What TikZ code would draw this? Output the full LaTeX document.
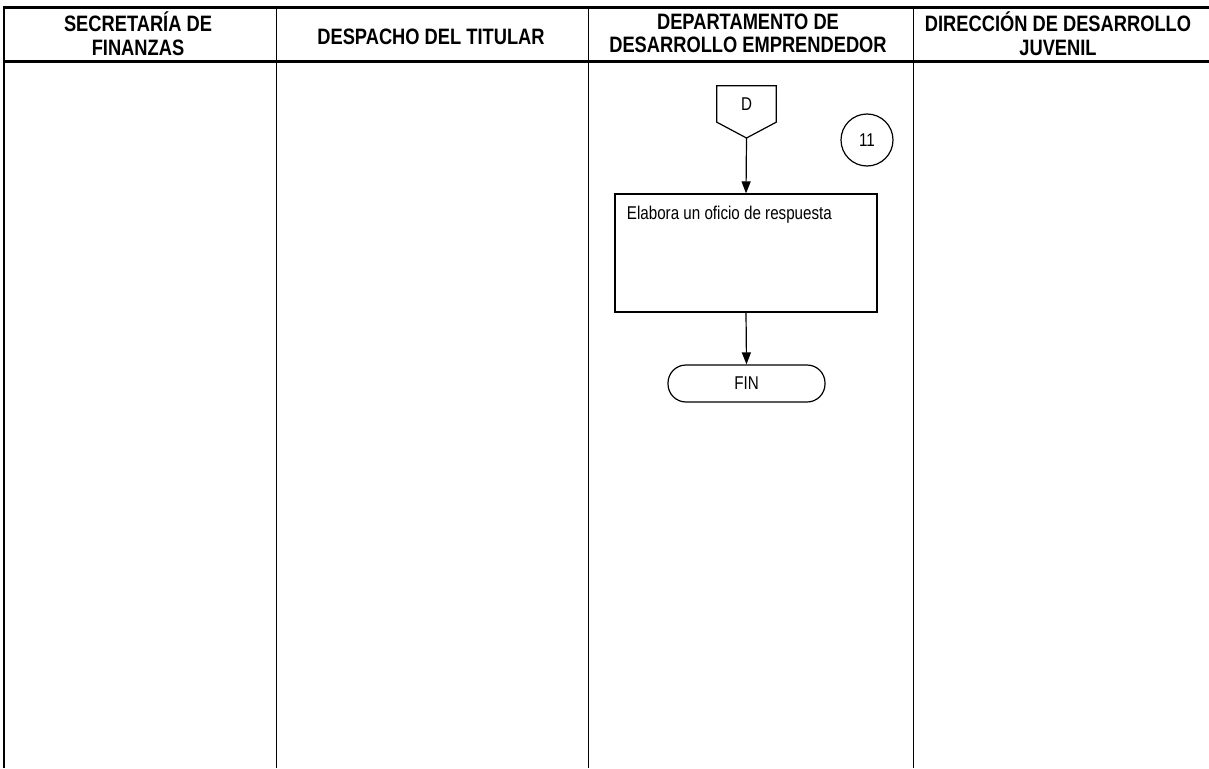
\documentclass[tikz,border=0pt]{standalone}
\usepackage{fontspec}
\setmainfont{Liberation Sans}[FakeStretch=0.82]
\usetikzlibrary{arrows.meta}

\begin{document}
\begin{tikzpicture}[x=1pt, y=-1pt,
        every node/.style = {font=\fontsize{18.5}{21}\selectfont},
        header/.style = {align=center, font=\fontsize{22.3}{23.5}\selectfont\bfseries},
        process/.style = {draw, line width=1.2pt, minimum width=262pt, minimum height=118pt},
        terminal/.style = {draw, line width=1.2pt, rounded corners=18pt,
            minimum width=157pt, minimum height=37pt},
        stepnum/.style = {draw, circle, line width=1.2pt, minimum size=52pt, inner sep=0pt},
        flow/.style = {line width=1.2pt, -{Triangle[length=12pt, width=9pt]}}]
    \useasboundingbox (0,0) rectangle (1209,768);
    % swimlanes
    \draw[line width=2.5pt] (3,7.5) -- (1209,7.5);
    \draw[line width=2.5pt] (3,61.5) -- (1209,61.5);
    \draw[line width=2pt] (4,6.5) -- (4,768);
    \foreach \x in {276.5, 588.5, 913.5}
        \draw[line width=0.9pt] (\x,7.5) -- (\x,768);
    \node[header] (finanzas) at (138,33.5) {SECRETARÍA DE\\FINANZAS};
    \node[header] (despacho) at (431,37) {DESPACHO DEL TITULAR};
    \node[header] (emprende) at (748,33.5) {DEPARTAMENTO DE\\DESARROLLO EMPRENDEDOR};
    \node[header] (juvenil) at (1058,33.5) {DIRECCIÓN DE DESARROLLO\\JUVENIL};
    % flow
    \node[minimum width=59pt, minimum height=36pt, inner sep=0pt] (conD) at (746.5,104) {D};
    \draw[line width=1.2pt] (conD.north west) -- (conD.north east) -- (conD.south east)
        -- (746.5,138) coordinate (tipD) -- (conD.south west) -- cycle;
    \node[stepnum] (n11) at (867,140) {11};
    \node[process, label={[anchor=north west, xshift=9pt, yshift=-9pt]north west:{Elabora un oficio de respuesta}}]
        (oficio) at (746,253) {};
    \node[terminal] (fin) at (746.5,383.5) {FIN};
    \draw[flow] (tipD) -- (oficio.north);
    \draw[flow] (oficio.south) -- (fin.north);
\end{tikzpicture}
\end{document}
